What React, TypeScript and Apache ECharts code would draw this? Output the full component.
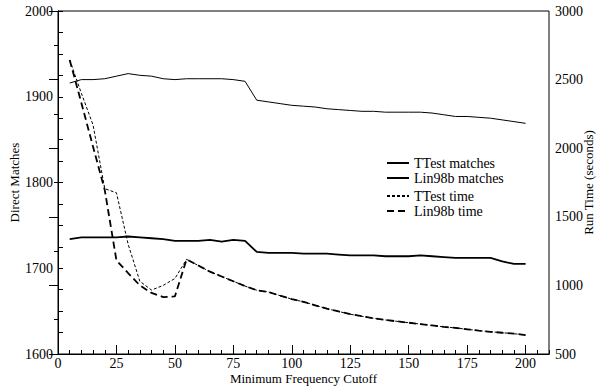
import React, { useEffect, useRef } from "react";
import * as echarts from "echarts";

const cutoffs = [5, 10, 15, 20, 25, 30, 35, 40, 45, 50, 55, 60, 65, 70, 75, 80, 85, 90, 95, 100,
  105, 110, 115, 120, 125, 130, 135, 140, 145, 150, 155, 160, 165, 170, 175, 180, 185, 190, 195, 200];

const ttestMatches = [1916, 1920, 1920, 1921, 1924, 1927, 1925, 1924, 1921, 1920, 1921, 1921, 1921, 1921, 1920, 1918, 1896, 1894, 1892, 1890,
  1889, 1888, 1886, 1885, 1884, 1883, 1883, 1882, 1882, 1882, 1882, 1881, 1879, 1877, 1877, 1876, 1875, 1873, 1871, 1869];

const linMatches = [1734, 1736, 1736, 1736, 1736, 1737, 1736, 1735, 1734, 1732, 1732, 1732, 1733, 1731, 1733, 1732, 1719, 1718, 1718, 1718,
  1717, 1717, 1717, 1716, 1715, 1715, 1715, 1714, 1714, 1714, 1715, 1714, 1713, 1712, 1712, 1712, 1712, 1708, 1705, 1705];

const sharedTimeTail = [1190, 1145, 1100, 1065, 1030, 995, 965, 952, 925, 900,
  880, 855, 830, 810, 790, 775, 760, 748, 738, 728, 718, 708, 698, 690, 680, 670, 662, 655, 648, 638];

const ttestTimeHead = [2643, 2400, 2169, 1705, 1675, 1300, 1030, 966, 1000, 1050];
const linTimeHead = [2643, 2330, 2010, 1695, 1182, 1090, 1000, 945, 915, 920];

const ttestTime = [...ttestTimeHead, ...sharedTimeTail];
const linTime = [...linTimeHead, ...sharedTimeTail];

const leftLabels = [1600, 1700, 1800, 1900, 2000];
const bottomLabels = [0, 25, 50, 75, 100, 125, 150, 175, 200];
const legendNames = ["TTest matches", "Lin98b matches", "TTest time", "Lin98b time"];

const FONT = "Liberation Serif";

const pairs = (ys: number[]) => cutoffs.map((x, i) => [x, ys[i]]);

export default function App() {
  const ref = useRef<HTMLDivElement>(null);
  useEffect(() => {
    if (!ref.current) return;
    const chart = echarts.init(ref.current, undefined, { renderer: "svg" });
    const text = { fontFamily: FONT, color: "#000", fontSize: 14 };
    const legendTops = [151, 166, 184, 199];
    chart.setOption({
      animation: false,
      textStyle: { fontFamily: FONT, color: "#000" },
      grid: {
        left: 58, right: 51, top: 11, bottom: 32,
        outerBoundsMode: "none",
        containLabel: false,
        show: true, borderColor: "#000", borderWidth: 1,
      },
      legend: legendNames.map((n, i) => ({
        data: [n],
        orient: "vertical",
        left: 381,
        top: legendTops[i],
        itemWidth: 22,
        itemHeight: 10,
        itemStyle: { opacity: 0 },
        textStyle: { ...text, fontSize: 14 },
      })),
      xAxis: [
        {
          type: "value",
          min: 0,
          max: 210,
          interval: 25,
          name: "Minimum Frequency Cutoff",
          nameLocation: "middle",
          nameGap: 18,
          nameMoveOverlap: false,
          nameTextStyle: { ...text, fontSize: 13 },
          axisLine: { lineStyle: { color: "#000", width: 1 } },
          axisTick: { inside: true, length: 9, lineStyle: { color: "#000" } },
          axisLabel: {
            ...text,
            margin: 2,
            showMaxLabel: false,
            formatter: (v: number) => (bottomLabels.includes(v) ? String(v) : ""),
          },
          splitLine: { show: false },
        },
        {
          type: "value",
          position: "bottom",
          min: 0,
          max: 210,
          interval: 5,
          axisLine: { show: true, lineStyle: { color: "#000", width: 1 } },
          axisTick: { show: true, inside: true, length: 4, lineStyle: { color: "#000" } },
          axisLabel: { show: false },
          splitLine: { show: false },
        },
      ],
      yAxis: [
        {
          type: "value",
          min: 1600,
          max: 2000,
          interval: 25,
          name: "Direct Matches",
          nameLocation: "middle",
          nameGap: 37,
          nameMoveOverlap: false,
          nameTextStyle: { ...text, fontSize: 13 },
          axisLine: { show: true, lineStyle: { color: "#000", width: 1 } },
          axisTick: { show: true, inside: true, length: 5, lineStyle: { color: "#000" } },
          axisLabel: {
            ...text,
            margin: 5,
            formatter: (v: number) => (leftLabels.includes(v) ? String(v) : ""),
          },
          splitLine: { show: false },
        },
        {
          type: "value",
          min: 500,
          max: 3000,
          interval: 500,
          position: "right",
          name: "Run Time (seconds)",
          nameLocation: "middle",
          nameGap: 33,
          nameMoveOverlap: false,
          nameTextStyle: { ...text, fontSize: 13 },
          axisLine: { show: true, lineStyle: { color: "#000", width: 1 } },
          axisTick: { show: true, inside: true, length: 9, lineStyle: { color: "#000" } },
          minorTick: { show: true, splitNumber: 2, length: 4, lineStyle: { color: "#000" } },
          axisLabel: { ...text, margin: 6, formatter: (v: number) => String(v) },
          splitLine: { show: false },
        },
      ],
      series: [
        {
          name: "TTest matches",
          type: "line",
          yAxisIndex: 0,
          symbol: "none",
          data: pairs(ttestMatches),
          lineStyle: { color: "#000", width: 1 },
          itemStyle: { color: "#000" },
        },
        {
          name: "Lin98b matches",
          type: "line",
          yAxisIndex: 0,
          symbol: "none",
          data: pairs(linMatches),
          lineStyle: { color: "#000", width: 1.8 },
          itemStyle: { color: "#000" },
        },
        {
          name: "TTest time",
          type: "line",
          yAxisIndex: 1,
          symbol: "none",
          data: pairs(ttestTime),
          lineStyle: { color: "#000", width: 1, type: [3, 2] },
          itemStyle: { color: "#000" },
        },
        {
          name: "Lin98b time",
          type: "line",
          yAxisIndex: 1,
          symbol: "none",
          data: pairs(linTime),
          lineStyle: { color: "#000", width: 1.8, type: [7, 4] },
          itemStyle: { color: "#000" },
        },
      ],
    });
    return () => chart.dispose();
  }, []);
  return <div ref={ref} style={{ width: 600, height: 386, position: "absolute", left: 0, top: 0 }} />;
}
